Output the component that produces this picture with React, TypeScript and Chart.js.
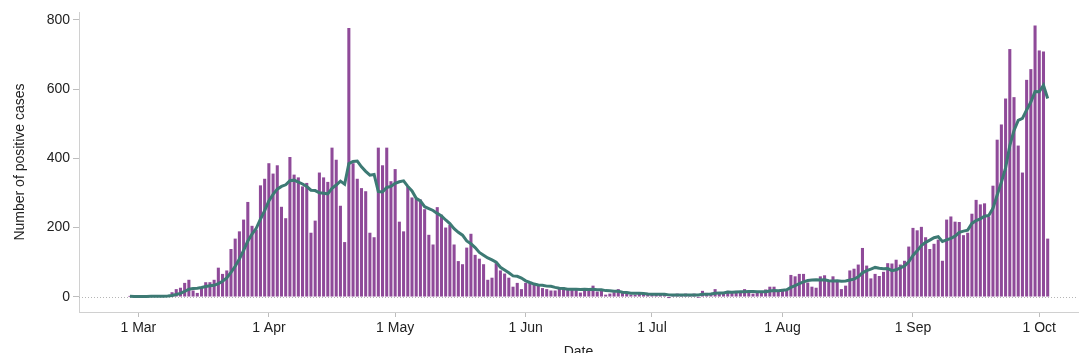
import { useEffect, useRef } from 'react';
import { Chart, registerables } from 'chart.js';

Chart.register(...registerables);

// day index relative to 1 Mar (first bar = 28 Feb)
const startDay = -2;

const dailyCases = [
  1, 0, 1, 1, 1, 2, 1, 2, 3, 4,
  12, 21, 25, 39, 48, 17, 10, 25, 41, 41,
  48, 83, 65, 75, 137, 167, 188, 222, 273, 204,
  193, 321, 340, 385, 355, 379, 259, 226, 403, 352,
  344, 318, 328, 184, 219, 358, 344, 331, 430, 395,
  262, 157, 776, 385, 340, 313, 304, 184, 171, 430,
  379, 430, 333, 368, 216, 188, 318, 286, 282, 280,
  252, 178, 150, 258, 236, 199, 207, 150, 102, 93,
  141, 181, 120, 109, 93, 48, 54, 96, 75, 66,
  54, 28, 39, 21, 39, 41, 34, 34, 24, 21,
  17, 17, 26, 26, 22, 22, 21, 11, 22, 21,
  31, 14, 19, 5, 8, 12, 21, 10, 8, 5,
  5, 10, 8, 10, 5, 8, 5, 4, -3, 5,
  8, 5, 8, 5, 8, -2, 16, 10, 10, 21,
  10, 10, 16, 14, 16, 14, 21, 16, 8, 10,
  13, 20, 28, 28, 14, 17, 19, 62, 58, 65,
  65, 40, 28, 25, 58, 61, 47, 58, 44, 21,
  31, 75, 80, 92, 140, 89, 52, 65, 59, 71,
  96, 95, 106, 92, 103, 144, 198, 191, 201, 171,
  137, 152, 164, 103, 222, 231, 216, 215, 177, 184,
  239, 279, 266, 269, 231, 320, 453, 497, 572, 715,
  576, 436, 358, 626, 657, 783, 711, 708, 167,
];

const rollingAverage = [
  1, 0.5, 0.7, 0.8, 0.8, 1, 1, 1.1, 1.6, 2,
  3.6, 6.4, 9.7, 15.1, 21.7, 23.7, 24.6, 26.4, 29.3, 31.6,
  32.9, 37.9, 44.7, 54, 70, 88, 109, 133.9, 161, 180.9,
  197.7, 224, 248.7, 276.9, 295.9, 311, 318.9, 323.6, 335.3, 337,
  331.1, 325.9, 318.6, 307.9, 306.9, 300.4, 299.3, 297.4, 313.4, 323,
  334.1, 325.3, 385, 390.9, 392.1, 375.4, 362.4, 351.3, 353.3, 303.9,
  303, 315.9, 318.7, 327.9, 332.4, 334.9, 318.9, 305.6, 284.4, 276.9,
  260.3, 254.9, 249.4, 240.9, 233.7, 221.9, 211.4, 196.9, 186, 177.9,
  161.1, 153.3, 142, 128, 119.9, 112.1, 106.6, 100.1, 85, 77.3,
  69.4, 60.1, 58.9, 54.1, 46, 41.1, 36.6, 33.7, 33.1, 30.6,
  30, 26.9, 24.7, 23.6, 21.9, 21.6, 21.6, 20.7, 21.4, 20.7,
  21.4, 20.3, 19.9, 17.6, 17.1, 15.7, 15.7, 12.7, 11.9, 9.9,
  9.9, 10.1, 9.6, 8, 7.3, 7.3, 7.3, 7.1, 5.3, 4.9,
  4.6, 4.6, 4.6, 4.6, 5.1, 5.3, 6.9, 7.1, 7.9, 9.7,
  10.4, 10.7, 13.3, 13, 13.9, 14.4, 14.4, 15.3, 15, 14.1,
  14, 14.6, 16.6, 17.6, 17.3, 18.6, 19.9, 26.9, 32.3, 37.6,
  42.9, 46.6, 48.1, 49, 48.4, 48.9, 46.3, 45.3, 45.9, 44.9,
  45.7, 48.1, 50.9, 57.3, 69, 75.4, 79.9, 84.7, 82.4, 81.1,
  81.7, 75.3, 77.7, 83.4, 88.9, 101, 119.1, 132.7, 147.9, 157.1,
  163.6, 170.6, 173.4, 159.9, 164.3, 168.6, 175, 186.1, 189.7, 192.6,
  212, 220.1, 225.1, 232.7, 235, 255.4, 293.9, 330.7, 372.6, 436.7,
  480.6, 509.9, 515.3, 540, 562.9, 593, 592.4, 611.3, 572.9,
];

const xTickDays = [0, 31, 61, 92, 122, 153, 184, 214];
const xTickLabels = ['1 Mar', '1 Apr', '1 May', '1 Jun', '1 Jul', '1 Aug', '1 Sep', '1 Oct'];
const yTickValues = [0, 200, 400, 600, 800];

const FONT = "'Liberation Sans', Arial, Helvetica, sans-serif";

const zeroLine = {
  id: 'zeroLine',
  beforeDatasetsDraw(chart: any) {
    const { ctx, chartArea, scales } = chart;
    const y = Math.round(scales.y.getPixelForValue(0)) + 0.5;
    ctx.save();
    ctx.strokeStyle = '#b5b5b5';
    ctx.lineWidth = 1;
    ctx.setLineDash([1, 2]);
    ctx.beginPath();
    ctx.moveTo(chartArea.left, y);
    ctx.lineTo(chartArea.right, y);
    ctx.stroke();
    ctx.restore();
  },
};

export default function App() {
  const ref = useRef<HTMLCanvasElement | null>(null);

  useEffect(() => {
    if (!ref.current) return;
    const barData = dailyCases.map((v, i) => ({ x: startDay + i, y: v }));
    const lineData = rollingAverage.map((v, i) => ({ x: startDay + i, y: v }));

    const chart = new Chart(ref.current, {
      type: 'bar',
      data: {
        datasets: [
          {
            type: 'line',
            data: lineData,
            borderColor: '#3d7a74',
            borderWidth: 3,
            pointRadius: 0,
            tension: 0,
            order: 0,
          } as any,
          {
            type: 'bar',
            data: barData,
            backgroundColor: '#8f4a99',
            barThickness: 2.4,
            order: 1,
          } as any,
        ],
      },
      options: {
        responsive: false,
        animation: false,
        events: [],
        layout: { padding: { left: 0, right: 2, top: 12, bottom: 0 } },
        plugins: { legend: { display: false }, tooltip: { enabled: false } },
        scales: {
          x: {
            type: 'linear',
            min: -14.1,
            max: 223.2,
            offset: false,
            afterBuildTicks: (s: any) => {
              s.ticks = xTickDays.map((v) => ({ value: v }));
            },
            afterFit: (s: any) => {
              s.height = 41;
            },
            ticks: {
              autoSkip: false,
              maxRotation: 0,
              padding: 3,
              color: '#222',
              font: { family: FONT, size: 14 },
              callback: (v: any) => {
                const i = xTickDays.indexOf(Number(v));
                return i >= 0 ? xTickLabels[i] : '';
              },
            },
            grid: { drawOnChartArea: false, drawTicks: true, tickLength: 5, color: '#bdbdbd', offset: false },
            border: { display: true, color: '#d0d0d0' },
            title: {
              display: true,
              text: 'Date',
              color: '#222',
              font: { family: FONT, size: 14 },
              padding: { top: 0, bottom: -8 },
            },
          },
          y: {
            type: 'linear',
            min: -44.2,
            max: 823.1,
            afterBuildTicks: (s: any) => {
              s.ticks = yTickValues.map((v) => ({ value: v }));
            },
            afterFit: (s: any) => {
              s.width = 79;
            },
            ticks: {
              padding: 3,
              color: '#222',
              font: { family: FONT, size: 14 },
            },
            grid: { drawOnChartArea: false, drawTicks: true, tickLength: 6, color: '#bdbdbd' },
            border: { display: true, color: '#d0d0d0' },
            title: {
              display: true,
              text: 'Number of positive cases',
              color: '#222',
              font: { family: FONT, size: 14 },
              padding: { top: 12, bottom: 0 },
            },
          },
        },
      },
      plugins: [zeroLine],
    });
    return () => chart.destroy();
  }, []);

  return (
    <div style={{ position: 'fixed', left: 0, top: 0, width: 1080, height: 353, background: '#fff' }}>
      <canvas ref={ref} width={1080} height={353} style={{ display: 'block' }} />
    </div>
  );
}
